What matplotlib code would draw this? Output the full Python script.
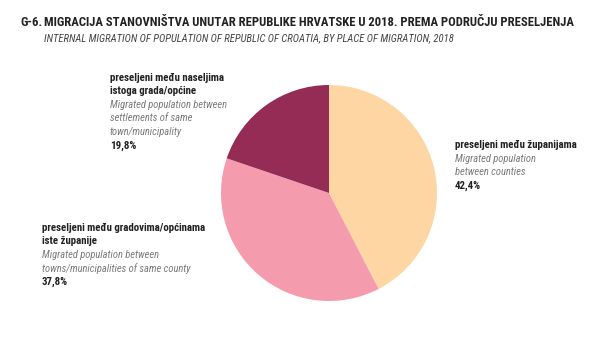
import matplotlib.pyplot as plt

# Podaci
udjeli = [42.4, 37.8, 19.8]
boje = ['#FDD6A4', '#F49BAE', '#952C55']
naslovi_hr = ['preseljeni među županijama',
              'preseljeni među gradovima/općinama\niste županije',
              'preseljeni među naseljima\nistoga grada/općine']
naslovi_en = ['Migrated population\nbetween counties',
              'Migrated population between\ntowns/municipalities of same county',
              'Migrated population between\nsettlements of same\ntown/municipality']
postoci = ['42,4%', '37,8%', '19,8%']

W, H = 600, 364
plt.rcParams['font.family'] = ['Roboto Condensed', 'DejaVu Sans']
fig = plt.figure(figsize=(6, 3.64), dpi=100, facecolor='white')
renderer = fig.canvas.get_renderer()


def prilagodi(t, sirina):
    # podesi velicinu fonta da tekst bude zadane sirine (px)
    w = t.get_window_extent(renderer).width
    t.set_fontsize(t.get_fontsize() * sirina / w)


# Pita: centar (329,193) px, radijus 108 px
cx, cy, r = 329, 193, 108
ax = fig.add_axes([(cx - r) / W, (H - cy - r) / H, 2 * r / W, 2 * r / H])
ax.pie(udjeli, colors=boje, startangle=90, counterclock=False, radius=1,
       wedgeprops={'linewidth': 0})
ax.set_xlim(-1, 1)
ax.set_ylim(-1, 1)
ax.set_aspect('equal')
ax.axis('off')

# Naslov
t = fig.text(44 / W, 1 - 22 / H,
             'MIGRACIJA STANOVNIŠTVA UNUTAR REPUBLIKE HRVATSKE U 2018. PREMA PODRUČJU PRESELJENJA',
             fontsize=9.5, fontweight='bold', va='center', color='#222222')
prilagodi(t, 529)
fig.text(20 / W, 1 - 22 / H, 'G-6.', fontsize=t.get_fontsize(), fontweight='bold',
         va='center', color='#222222')
t = fig.text(44 / W, 1 - 38 / H,
             'INTERNAL MIGRATION OF POPULATION OF REPUBLIC OF CROATIA, BY PLACE OF MIGRATION, 2018',
             fontsize=9.5, style='italic', va='center', color='#444444')
prilagodi(t, 409)


def oznaka(x, y, hr, en, pct, korak=13.5):
    red = 0
    for line in hr.split('\n'):
        fig.text(x / W, 1 - (y + red * korak) / H, line, fontsize=7.8,
                 fontweight='bold', va='center', color='#222222')
        red += 1
    for line in en.split('\n'):
        fig.text(x / W, 1 - (y + red * korak) / H, line, fontsize=7.6,
                 style='italic', va='center', color='#7a7a7a')
        red += 1
    fig.text(x / W, 1 - (y + red * korak) / H, pct, fontsize=7.8,
             fontweight='bold', va='center', color='#222222')


oznaka(455, 145, naslovi_hr[0], naslovi_en[0], postoci[0])
oznaka(42, 228, naslovi_hr[1], naslovi_en[1], postoci[1])
oznaka(110, 78, naslovi_hr[2], naslovi_en[2], postoci[2])

plt.savefig('out.png', dpi=100, facecolor='white')
